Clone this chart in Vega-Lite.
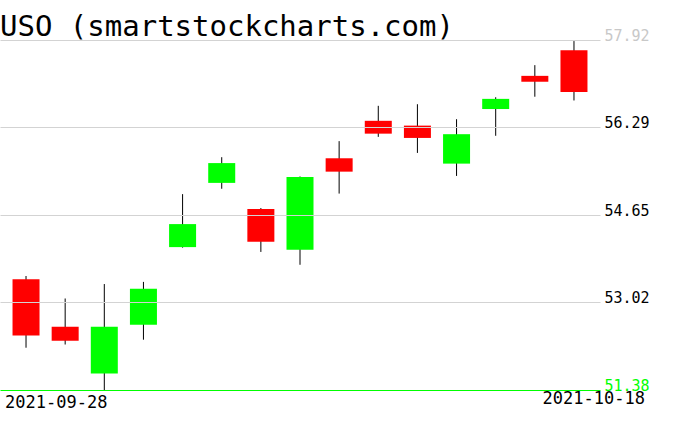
{
  "$schema": "https://vega.github.io/schema/vega-lite/v6.json",
  "width": 600,
  "height": 350,
  "autosize": "none",
  "padding": {"left": 0, "top": 40, "right": 76, "bottom": 41},
  "background": "white",
  "title": {
    "text": "USO (smartstockcharts.com)",
    "anchor": "start",
    "frame": "group",
    "font": "DejaVu Sans Mono",
    "fontSize": 29,
    "fontWeight": "normal",
    "color": "#000000",
    "baseline": "alphabetic",
    "offset": -37
  },
  "data": {
    "values": [
      {"date": "2021-09-28", "open": 53.45, "high": 53.51, "low": 52.17, "close": 52.40},
      {"date": "2021-09-29", "open": 52.56, "high": 53.09, "low": 52.23, "close": 52.30},
      {"date": "2021-09-30", "open": 51.69, "high": 53.36, "low": 51.38, "close": 52.56},
      {"date": "2021-10-01", "open": 52.60, "high": 53.40, "low": 52.32, "close": 53.27},
      {"date": "2021-10-04", "open": 54.05, "high": 55.04, "low": 54.04, "close": 54.48},
      {"date": "2021-10-05", "open": 55.25, "high": 55.73, "low": 55.14, "close": 55.62},
      {"date": "2021-10-06", "open": 54.76, "high": 54.78, "low": 53.96, "close": 54.15},
      {"date": "2021-10-07", "open": 54.00, "high": 55.37, "low": 53.72, "close": 55.36},
      {"date": "2021-10-08", "open": 55.71, "high": 56.03, "low": 55.05, "close": 55.46},
      {"date": "2021-10-11", "open": 56.41, "high": 56.69, "low": 56.11, "close": 56.17},
      {"date": "2021-10-12", "open": 56.32, "high": 56.72, "low": 55.81, "close": 56.09},
      {"date": "2021-10-13", "open": 55.61, "high": 56.44, "low": 55.38, "close": 56.16},
      {"date": "2021-10-14", "open": 56.63, "high": 56.85, "low": 56.13, "close": 56.82},
      {"date": "2021-10-15", "open": 57.25, "high": 57.45, "low": 56.86, "close": 57.14},
      {"date": "2021-10-18", "open": 57.73, "high": 57.90, "low": 56.79, "close": 56.95}
    ]
  },
  "encoding": {
    "x": {
      "field": "date",
      "type": "ordinal",
      "sort": null,
      "scale": {"paddingInner": 0.31, "paddingOuter": 0.32},
      "axis": {
        "title": null,
        "domain": false,
        "ticks": false,
        "grid": false,
        "labelAngle": 0,
        "labelFont": "DejaVu Sans Mono",
        "labelFontSize": 17,
        "labelColor": "#000000",
        "labelBaseline": "top",
        "labelOverlap": false,
        "labelBound": false,
        "labelFlush": false,
        "labelExpr": "datum.value == '2021-09-28' || datum.value == '2021-10-18' ? datum.value : ''",
        "labelAlign": {"condition": {"test": "datum.value == '2021-09-28'", "value": "left"}, "value": "right"},
        "labelOffset": {"condition": {"test": "datum.value == '2021-09-28'", "value": -21}, "value": 71},
        "labelPadding": {"condition": {"test": "datum.value == '2021-09-28'", "value": 4}, "value": 0}
      }
    }
  },
  "layer": [
    {
      "mark": {"type": "rule", "color": "#000000", "strokeWidth": 1},
      "encoding": {
        "y": {
          "field": "low",
          "type": "quantitative",
          "scale": {"domain": [51.38, 57.92], "nice": false, "zero": false},
          "axis": {
            "orient": "right",
            "title": null,
            "values": [51.38, 53.02, 54.65, 56.29, 57.92],
            "format": ".2f",
            "grid": true,
            "gridWidth": 1,
            "gridColor": {"condition": {"test": "datum.value < 51.4", "value": "#00ff00"}, "value": "#d3d3d3"},
            "domain": false,
            "ticks": false,
            "labelFont": "DejaVu Sans Mono",
            "labelFontSize": 15,
            "labelPadding": 4,
            "labelAlign": "left",
            "labelBaseline": "alphabetic",
            "labelOverlap": false,
            "labelBound": false,
            "labelFlush": false,
            "labelColor": {"condition": [{"test": "datum.value > 57.9", "value": "#c8c8c8"}, {"test": "datum.value < 51.4", "value": "#00ff00"}], "value": "#000000"},
            "zindex": 1
          }
        },
        "y2": {"field": "high"}
      }
    },
    {
      "mark": {"type": "bar"},
      "encoding": {
        "y": {
          "field": "open",
          "type": "quantitative",
          "scale": {"domain": [51.38, 57.92], "nice": false, "zero": false},
          "axis": {
            "orient": "right",
            "title": null,
            "values": [51.38, 53.02, 54.65, 56.29, 57.92],
            "format": ".2f",
            "grid": true,
            "gridWidth": 1,
            "gridColor": {"condition": {"test": "datum.value < 51.4", "value": "#00ff00"}, "value": "#d3d3d3"},
            "domain": false,
            "ticks": false,
            "labelFont": "DejaVu Sans Mono",
            "labelFontSize": 15,
            "labelPadding": 4,
            "labelAlign": "left",
            "labelBaseline": "alphabetic",
            "labelOverlap": false,
            "labelBound": false,
            "labelFlush": false,
            "labelColor": {"condition": [{"test": "datum.value > 57.9", "value": "#c8c8c8"}, {"test": "datum.value < 51.4", "value": "#00ff00"}], "value": "#000000"},
            "zindex": 1
          }
        },
        "y2": {"field": "close"},
        "color": {"condition": {"test": "datum.open < datum.close", "value": "#00ff00"}, "value": "#ff0000"}
      }
    }
  ],
  "config": {"view": {"stroke": null}}
}
